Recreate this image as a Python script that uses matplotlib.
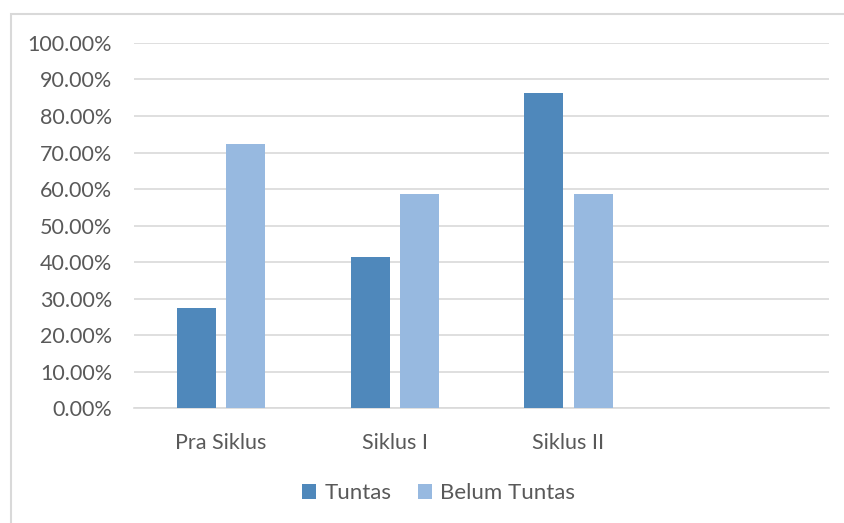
import numpy as np
from matplotlib import pyplot as plt
from matplotlib.patches import Rectangle

# data
categories = ["Pra Siklus", "Siklus I", "Siklus II", ""]
tuntas = [27.59, 41.38, 86.21, np.nan]
belum_tuntas = [72.41, 58.62, 58.62, np.nan]
series_names = ["Tuntas", "Belum Tuntas"]

plt.rcParams["font.family"] = ["Lato", "DejaVu Sans"]
text_color = "#595959"

fig = plt.figure(figsize=(8.45, 5.23), dpi=100)
ax = fig.add_axes([0.159, 0.219, 0.822, 0.699])

x = np.arange(len(categories))
w = 0.225
off = 0.1415
ax.bar(x - off, tuntas, w, color="#4F88BB", label=series_names[0], zorder=3)
ax.bar(x + off, belum_tuntas, w, color="#97B9E0", label=series_names[1], zorder=3)

ax.set_xlim(-0.5, len(categories) - 0.5)
ax.set_ylim(0, 100)
ax.set_yticks(np.arange(0, 101, 10))
ax.set_yticklabels([f"{v:.2f}%" for v in np.arange(0, 101, 10)])
ax.set_xticks(x)
ax.set_xticklabels(categories)
ax.tick_params(axis="both", length=0, colors=text_color, labelsize=15.5)
ax.tick_params(axis="x", pad=18)
ax.tick_params(axis="y", pad=16)

ax.grid(axis="y", color="#D9D9D9", linewidth=1.2, zorder=0)
for s in ["top", "right", "left"]:
    ax.spines[s].set_visible(False)
ax.spines["bottom"].set_color("#D9D9D9")
ax.spines["bottom"].set_linewidth(1.2)

leg = fig.legend(loc="center", bbox_to_anchor=(0.519, 0.057), ncol=2, frameon=False,
                 fontsize=16, handlelength=0.65, handleheight=0.65, columnspacing=1.2,
                 handletextpad=0.35)
for t in leg.get_texts():
    t.set_color(text_color)

# chart border (only top and left inside the image)
fig.patches.append(Rectangle((0.013, -0.05), 1.05, 1.023, transform=fig.transFigure,
                             fill=False, edgecolor="#D9D9D9", linewidth=1.5))

plt.savefig("out.png", dpi=100)
